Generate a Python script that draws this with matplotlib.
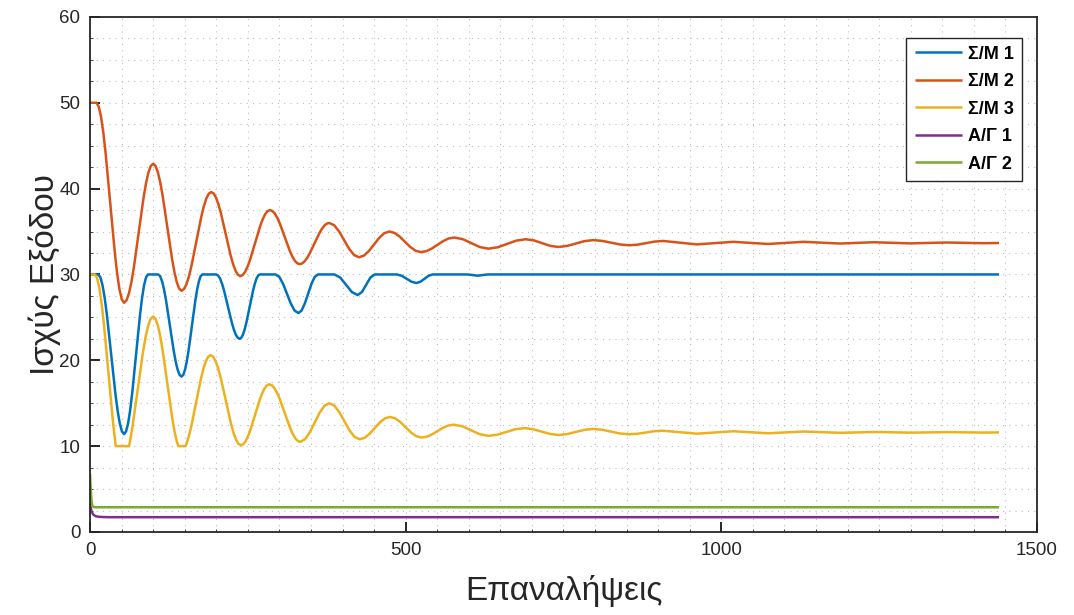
"""Output power per iteration for the three Σ/Μ and two Α/Γ units (MATLAB-style look)."""

import matplotlib

matplotlib.use("Agg")
import matplotlib.pyplot as plt
from matplotlib.ticker import MultipleLocator

# Values (extrema plus several points per swing).
sm1_x = [0, 13, 16.42, 19.83, 23.25, 26.67, 33.5, 40.33, 43.75, 47.17, 50.58, 54,
         57.17, 60.33, 63.5, 66.67, 73, 79.33, 82.5, 85.67, 88.83, 92,
         108, 111.08, 114.17, 117.25, 120.33, 126.5, 132.67, 135.75, 138.83, 141.92, 145,
         147.75, 150.5, 153.25, 156, 161.5, 167, 169.75, 172.5, 175.25, 178,
         200, 203.08, 206.17, 209.25, 212.33, 218.5, 224.67, 227.75, 230.83, 233.92, 237,
         239.67, 242.33, 245, 247.67, 253, 258.33, 261, 263.67, 266.33, 269,
         294, 300, 306, 312, 318, 324, 330, 335.17, 340.33, 345.5, 350.67, 355.83, 361,
         387, 396.25, 405.5, 414.75, 424, 430.75, 437.5, 444.25, 451,
         486, 493.75, 501.5, 509.25, 517, 523.5, 530, 536.5, 543,
         598, 606, 614, 622, 630, 1440]
sm1_y = [30, 30, 29.68, 28.75, 27.28, 25.35, 20.7, 16.05, 14.12, 12.65, 11.72, 11.4,
         11.72, 12.65, 14.12, 16.05, 20.7, 25.35, 27.28, 28.75, 29.68, 30,
         30, 29.8, 29.2, 28.26, 27.03, 24.05, 21.08, 19.84, 18.9, 18.3, 18.1,
         18.3, 18.9, 19.84, 21.08, 24.05, 27.03, 28.26, 29.2, 29.8, 30,
         30, 29.87, 29.5, 28.9, 28.13, 26.25, 24.38, 23.6, 23.0, 22.63, 22.5,
         22.63, 23.0, 23.6, 24.38, 26.25, 28.13, 28.9, 29.5, 29.87, 30,
         30, 29.7, 28.88, 27.75, 26.63, 25.8, 25.5, 25.8, 26.63, 27.75, 28.88, 29.7, 30,
         30, 29.65, 28.8, 27.95, 27.6, 27.95, 28.8, 29.65, 30,
         30, 29.85, 29.5, 29.15, 29.0, 29.15, 29.5, 29.85, 30,
         30, 29.93, 29.85, 29.93, 30, 30]

sm2_x = [0, 10, 13.67, 17.33, 21, 24.67, 32, 39.33, 43, 46.67, 50.33, 54,
         57.83, 61.67, 65.5, 69.33, 77, 84.67, 88.5, 92.33, 96.17, 100,
         103.75, 107.5, 111.25, 115, 122.5, 130, 133.75, 137.5, 141.25, 145,
         148.92, 152.83, 156.75, 160.67, 168.5, 176.33, 180.25, 184.17, 188.08, 192,
         195.83, 199.67, 203.5, 207.33, 215, 222.67, 226.5, 230.33, 234.17, 238,
         241.92, 245.83, 249.75, 253.67, 261.5, 269.33, 273.25, 277.17, 281.08, 285,
         288.92, 292.83, 296.75, 300.67, 308.5, 316.33, 320.25, 324.17, 328.08, 332,
         335.92, 339.83, 343.75, 347.67, 355.5, 363.33, 367.25, 371.17, 375.08, 379,
         386.83, 394.67, 402.5, 410.33, 418.17, 426, 434, 442, 450, 458, 466, 474,
         482.33, 490.67, 499, 507.33, 515.67, 524, 532.83, 541.67, 550.5, 559.33, 568.17, 577,
         590.5, 604, 617.5, 631, 645.75, 660.5, 675.25, 690,
         703, 716, 729, 742, 755.75, 769.5, 783.25, 797, 811.25, 825.5, 839.75, 854,
         867.5, 881, 894.5, 908, 934.5, 961, 990, 1019, 1046.5, 1074, 1102, 1130,
         1159, 1188, 1214.5, 1241, 1270, 1299, 1328, 1357, 1386, 1415, 1440]
sm2_y = [50, 50, 49.6, 48.44, 46.59, 44.18, 38.35, 32.53, 30.11, 28.26, 27.1, 26.7,
         26.98, 27.79, 29.07, 30.75, 34.8, 38.85, 40.53, 41.81, 42.62, 42.9,
         42.65, 41.91, 40.73, 39.2, 35.5, 31.8, 30.27, 29.09, 28.35, 28.1,
         28.3, 28.87, 29.78, 30.98, 33.85, 36.73, 37.92, 38.83, 39.4, 39.6,
         39.43, 38.94, 38.16, 37.15, 34.7, 32.25, 31.24, 30.46, 29.97, 29.8,
         29.93, 30.32, 30.93, 31.73, 33.65, 35.58, 36.37, 36.98, 37.37, 37.5,
         37.39, 37.08, 36.58, 35.93, 34.35, 32.78, 32.12, 31.62, 31.31, 31.2,
         31.28, 31.52, 31.9, 32.4, 33.6, 34.8, 35.3, 35.68, 35.92, 36.0,
         35.73, 35.0, 34.0, 33.0, 32.27, 32.0, 32.2, 32.75, 33.5, 34.25, 34.8, 35.0,
         34.84, 34.4, 33.8, 33.2, 32.76, 32.6, 32.71, 33.03, 33.45, 33.88, 34.19, 34.3,
         34.11, 33.65, 33.19, 33.0, 33.16, 33.55, 33.94, 34.1,
         33.97, 33.65, 33.33, 33.2, 33.32, 33.6, 33.88, 34.0, 33.91, 33.7, 33.49, 33.4,
         33.47, 33.65, 33.83, 33.9, 33.7, 33.5, 33.65, 33.8, 33.675, 33.55, 33.675, 33.8,
         33.7, 33.6, 33.675, 33.75, 33.685, 33.62, 33.67, 33.72, 33.68, 33.64, 33.66]

sm3_x = [0, 7.5, 11.13, 14.75, 18.38, 22, 29.25, 36.5, 40.8,
         61.9, 63.25, 67.33, 75.5, 83.67, 87.75, 91.83, 95.92, 100,
         103.75, 107.5, 111.25, 115, 122.5, 130, 133.75, 137.5, 139.9,
         151.3, 152.67, 156.5, 160.33, 168, 175.67, 179.5, 183.33, 187.17, 191,
         195, 199, 203, 207, 215, 223, 227, 231, 235, 239,
         242.75, 246.5, 250.25, 254, 261.5, 269, 272.75, 276.5, 280.25, 284,
         288.08, 292.17, 296.25, 300.33, 308.5, 316.67, 320.75, 324.83, 328.92, 333,
         340.67, 348.33, 356, 363.67, 371.33, 379, 387, 395, 403, 411, 419, 427,
         435, 443, 451, 459, 467, 475, 483.33, 491.67, 500, 508.33, 516.67, 525,
         533.5, 542, 550.5, 559, 567.5, 576, 589.75, 603.5, 617.25, 631,
         645.25, 659.5, 673.75, 688, 701.5, 715, 728.5, 742, 755.75, 769.5, 783.25, 797,
         811.25, 825.5, 839.75, 854, 867.25, 880.5, 893.75, 907, 934, 961, 990, 1019,
         1046.5, 1074, 1102.5, 1131, 1159.5, 1188, 1216.5, 1245, 1272.5, 1300,
         1328.5, 1357, 1386, 1415, 1440]
sm3_y = [30, 30, 29.61, 28.46, 26.63, 24.25, 18.5, 12.75, 10,
         10, 10.5, 12.28, 16.55, 20.83, 22.6, 23.95, 24.81, 25.1,
         24.83, 24.05, 22.82, 21.2, 17.3, 13.4, 11.78, 10.54, 10,
         10, 10.24, 11.13, 12.28, 15.05, 17.83, 18.97, 19.86, 20.41, 20.6,
         20.42, 19.9, 19.06, 17.98, 15.35, 12.73, 11.64, 10.8, 10.28, 10.1,
         10.22, 10.58, 11.14, 11.88, 13.65, 15.43, 16.16, 16.72, 17.08, 17.2,
         17.09, 16.75, 16.22, 15.53, 13.85, 12.18, 11.48, 10.95, 10.61, 10.5,
         10.8, 11.63, 12.75, 13.88, 14.7, 15.0, 14.72, 13.95, 12.9, 11.85, 11.08, 10.8,
         10.97, 11.45, 12.1, 12.75, 13.23, 13.4, 13.24, 12.8, 12.2, 11.6, 11.16, 11.0,
         11.1, 11.38, 11.75, 12.13, 12.4, 12.5, 12.31, 11.85, 11.39, 11.2,
         11.33, 11.65, 11.97, 12.1, 11.98, 11.7, 11.42, 11.3, 11.4, 11.65, 11.9, 12.0,
         11.91, 11.69, 11.47, 11.38, 11.44, 11.59, 11.74, 11.8, 11.625, 11.45, 11.59, 11.73,
         11.615, 11.5, 11.6, 11.7, 11.625, 11.55, 11.6, 11.65, 11.61, 11.57,
         11.6, 11.63, 11.605, 11.58, 11.6]

ag1_x = [0, 1, 2, 3, 5, 7, 10, 14, 20, 30, 1440]
ag1_y = [3.4, 2.9, 2.55, 2.3, 2.05, 1.92, 1.82, 1.77, 1.74, 1.72, 1.72]

ag2_x = [0, 1, 2, 3, 4, 6, 10, 1440]
ag2_y = [6.8, 5.2, 4.0, 3.3, 3.0, 2.9, 2.88, 2.88]

series_labels = ["Σ/Μ 1", "Σ/Μ 2", "Σ/Μ 3", "Α/Γ 1", "Α/Γ 2"]
x_label = "Επαναλήψεις"
y_label = "Ισχύς Εξόδου"

# MATLAB default colour order.
_COLORS = ["#0072BD", "#D95319", "#EDB120", "#7E2F8E", "#77AC30"]
_INK = "#262626"

plt.rcParams["font.family"] = ["Liberation Sans", "DejaVu Sans"]

fig = plt.figure(figsize=(10.74, 6.15), dpi=100)
ax = fig.add_axes([0.0838, 0.135, 0.8817, 0.8375])

curves = [(sm1_x, sm1_y), (sm2_x, sm2_y), (sm3_x, sm3_y), (ag1_x, ag1_y), (ag2_x, ag2_y)]
for (xs, ys), lab, col in zip(curves, series_labels, _COLORS):
    ax.plot(xs, ys, color=col, linewidth=1.8, label=lab,
            solid_joinstyle="round", solid_capstyle="butt")

ax.set_xlim(0, 1500)
ax.set_ylim(0, 60)
ax.xaxis.set_major_locator(MultipleLocator(500))
ax.xaxis.set_minor_locator(MultipleLocator(50))
ax.yaxis.set_major_locator(MultipleLocator(10))
ax.yaxis.set_minor_locator(MultipleLocator(2.5))

# dotted grid everywhere, like MATLAB's "grid on; grid minor"
ax.grid(True, which="both", color="#b8b8b8", linewidth=0.75, linestyle=(0, (1, 5)))
ax.set_axisbelow(True)

ax.tick_params(which="major", direction="in", length=7, width=1.4, colors=_INK,
               labelsize=13.5, pad=7, top=False, right=False)
ax.tick_params(which="minor", direction="in", length=2.5, width=0.6, colors=_INK,
               top=False, right=False)
for sp in ax.spines.values():
    sp.set_color(_INK)
    sp.set_linewidth(1.3)

ax.set_xlabel(x_label, fontsize=24, color=_INK, labelpad=12)
ax.set_ylabel(y_label, fontsize=24, color=_INK, labelpad=-1)

leg = ax.legend(loc="upper right", bbox_to_anchor=(0.984, 0.96),
                prop={"weight": "bold", "size": 13}, frameon=True, fancybox=False,
                edgecolor=_INK, framealpha=1.0, handlelength=2.65, handletextpad=0.3,
                labelspacing=0.58, borderpad=0.45, borderaxespad=0.0)
leg.get_frame().set_linewidth(1.0)

fig.savefig("out.png", dpi=100)
plt.close(fig)
